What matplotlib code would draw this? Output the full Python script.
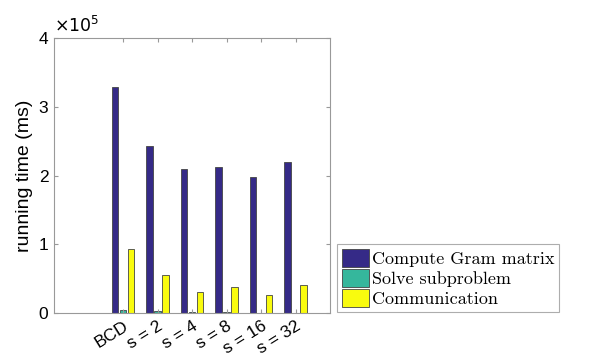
import numpy as np
from matplotlib import pyplot as plt

categories = ["BCD", "s = 2", "s = 4", "s = 8", "s = 16", "s = 32"]
gram = [3.28e5, 2.43e5, 2.10e5, 2.12e5, 1.98e5, 2.19e5]
solve = [4000, 3000, 1000, 800, 700, 600]
comm = [0.93e5, 0.55e5, 0.305e5, 0.373e5, 0.257e5, 0.412e5]
names = ["Compute Gram matrix", "Solve subproblem", "Communication"]
colors = ["#352a87", "#35b79c", "#f9fb0e"]

plt.rcParams['font.family'] = ['Liberation Sans', 'DejaVu Sans']

fig = plt.figure(figsize=(5.98, 3.61), dpi=100)
ax = fig.add_axes([54/598, 1-313/361, 276/598, 275/361])

x = np.arange(1, len(categories)+1)
w = 0.19
off = 0.23
for i, vals in enumerate([gram, solve, comm]):
    ax.bar(x + (i-1)*off, vals, w, color=colors[i], edgecolor='#444444',
           linewidth=0.6, label=names[i])

ax.set_xlim(-1, 7)
ax.set_ylim(0, 4e5)
ax.set_xticks(x)
ax.set_xticklabels(categories, rotation=32, ha='right', rotation_mode='anchor', fontsize=12.5)
ax.set_yticks([0, 1e5, 2e5, 3e5, 4e5])
ax.set_yticklabels(["0", "1", "2", "3", "4"], fontsize=12.5)
ax.tick_params(direction='in', top=True, right=True, length=3, color='#999999', pad=4)
for s in ax.spines.values():
    s.set_color('#999999')
    s.set_linewidth(0.8)
ax.text(0.0, 1.01, r"$\times10^5$", transform=ax.transAxes, fontsize=12.5,
        ha='left', va='bottom')
ax.set_ylabel("running time (ms)", fontsize=14, labelpad=4)

leg = ax.legend(loc='lower left', bbox_to_anchor=(337/598, 1-312/361),
                bbox_transform=fig.transFigure, prop={'family': 'cmr10', 'size': 13},
                fancybox=False, edgecolor='#999999', handlelength=1.5,
                handleheight=1.15, handletextpad=0.2, borderpad=0.25,
                labelspacing=0.12, borderaxespad=0)
leg.get_frame().set_linewidth(0.8)

plt.savefig("out.png")
